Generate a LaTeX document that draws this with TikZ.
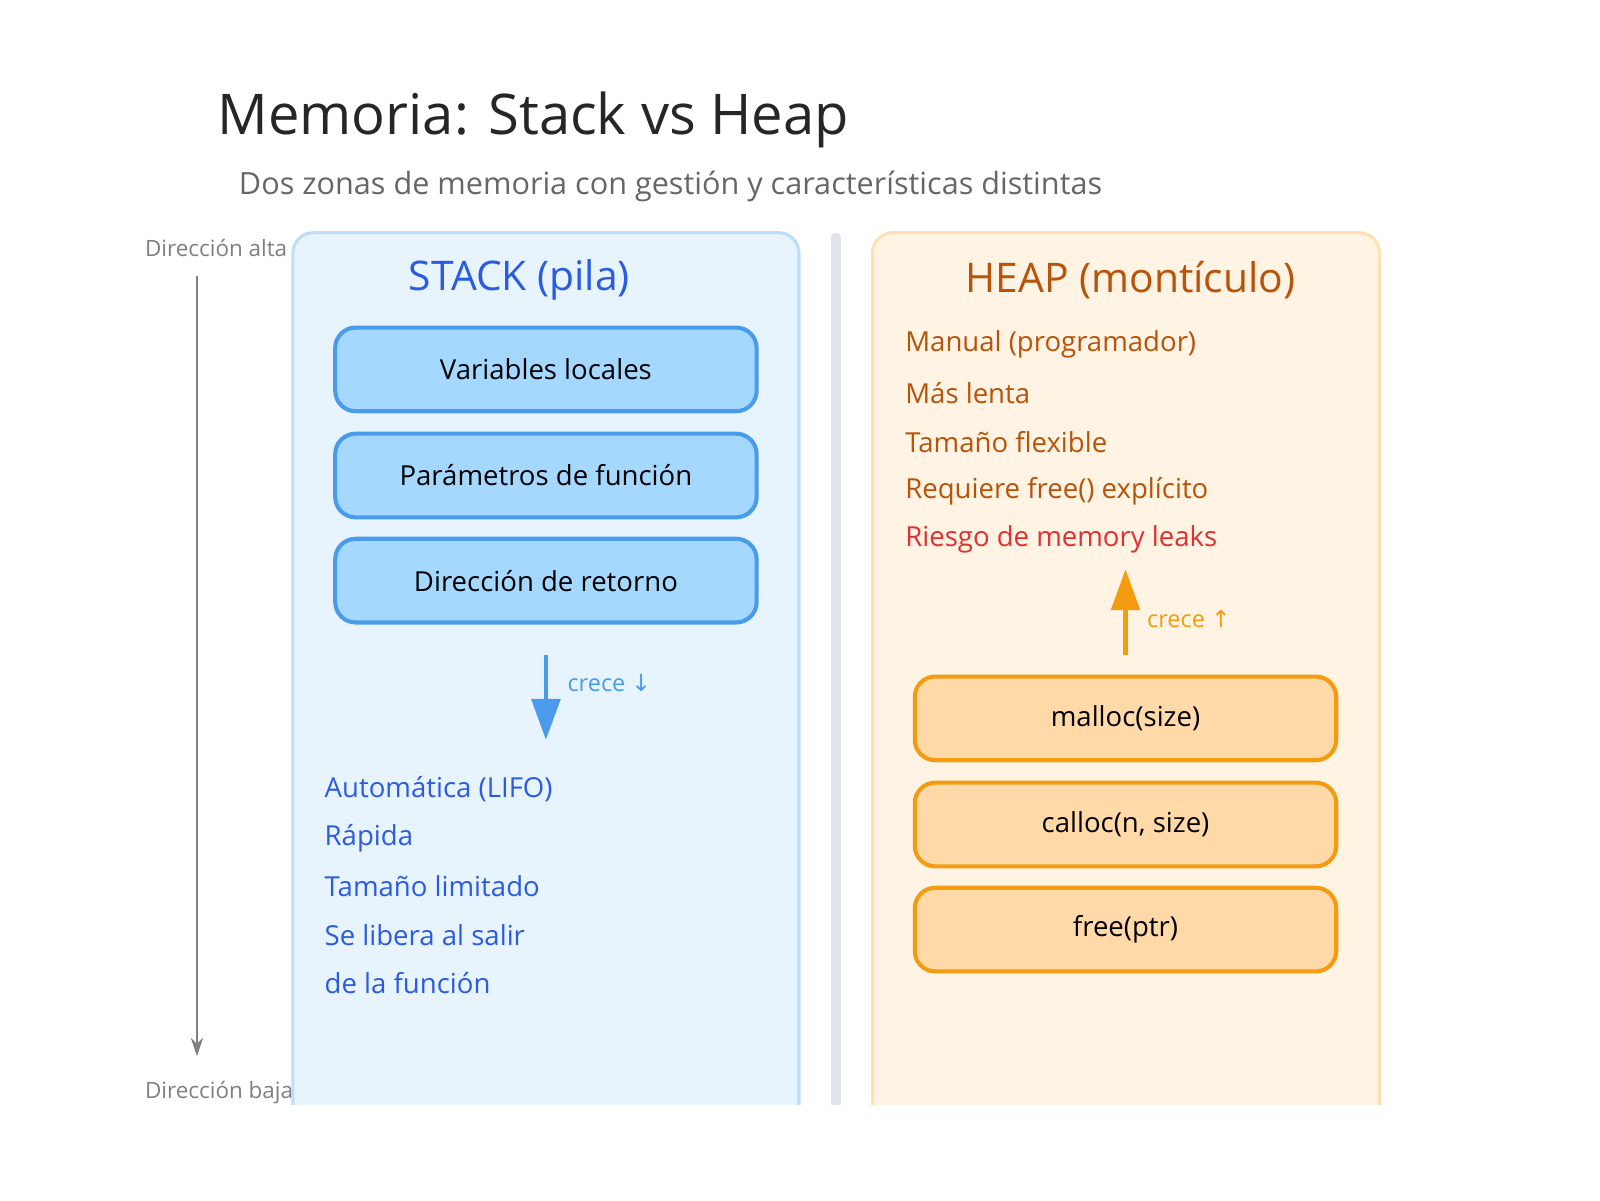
\documentclass[tikz,border=0pt]{standalone}
\usepackage{fontspec}
\setmainfont{Open Sans}
\newfontfamily\arrowfont{DejaVu Sans}
\usetikzlibrary{arrows.meta}
\definecolor{stackbg}{HTML}{E8F4FD}
\definecolor{stackline}{HTML}{BBDEFB}
\definecolor{stackbox}{HTML}{A5D8FF}
\definecolor{stackedge}{HTML}{4A9BEA}
\definecolor{stacktext}{HTML}{2B5BE0}
\definecolor{heapbg}{HTML}{FFF3E3}
\definecolor{heapline}{HTML}{FFE0B2}
\definecolor{heapbox}{HTML}{FFD9A8}
\definecolor{heapedge}{HTML}{F39C12}
\definecolor{heaptext}{HTML}{B8530A}
\definecolor{leaktext}{HTML}{E03030}
\definecolor{divider}{HTML}{E0E3EA}

\begin{document}
\begin{tikzpicture}[x=1pt,y=-1pt,
  panel/.style={rounded corners=20pt,line width=3pt},
  stackitem/.style={draw=stackedge,fill=stackbox,line width=4pt,rounded corners=20pt,
    minimum width=413pt,minimum height=82pt,font=\fontsize{27}{32}\selectfont},
  heapitem/.style={draw=heapedge,fill=heapbox,line width=4pt,rounded corners=20pt,
    minimum width=413pt,minimum height=82pt,font=\fontsize{27}{32}\selectfont},
  listitem/.style={anchor=west,inner sep=0pt,font=\fontsize{27}{32}\selectfont},
  small/.style={anchor=west,inner sep=0pt,text=gray,font=\fontsize{22}{26}\selectfont}]
\useasboundingbox (0,0) rectangle (1568,1176);
\begin{scope}
\clip (0,0) rectangle (1568,1082);
\draw[panel,fill=stackbg,draw=stackline] (287,228) rectangle (783,1110);
\draw[panel,fill=heapbg,draw=heapline] (855,228) rectangle (1352,1110);
\draw[line width=10pt,line cap=round,draw=divider] (819,233) -- (819,1110);
\end{scope}

% titles
\node[anchor=west,inner sep=0pt,text=black!85,font=\fontsize{55}{64}\selectfont] (title) at (213,118) {Memoria: Stack vs Heap};
\node[anchor=west,inner sep=0pt,text=black!60,font=\fontsize{30}{36}\selectfont] (subtitle) at (234,183) {Dos zonas de memoria con gestión y características distintas};

% address direction
\node[small] (high) at (142,243) {Dirección alta};
\node[small] (low) at (142,1071) {Dirección baja};
\coordinate (top) at (193,270);
\coordinate (bottom) at (193,1035);
\draw[gray,line width=2pt,-{Stealth[length=18pt,width=12pt]}] (top) -- (bottom);

% stack
\node[text=stacktext,font=\fontsize{40}{48}\selectfont] (stack) at (509,274) {STACK (pila)};
\node[stackitem] (vars) at (535,362) {Variables locales};
\node[stackitem] (params) at (535,466) {Parámetros de función};
\node[stackitem] (ret) at (535,569) {Dirección de retorno};
\coordinate (sdown1) at (535,642);
\coordinate (sdown2) at (535,725);
\draw[stackedge,line width=4pt,-{Triangle[length=40pt,width=28pt]}] (sdown1) -- (sdown2);
\node[listitem,text=stackedge,font=\fontsize{23}{28}\selectfont] (sgrow) at (556,669) {crece {\arrowfont ↓}};
\foreach \t [count=\i] in {Automática (LIFO),Rápida,Tamaño limitado,Se libera al salir,de la función}
  \node[listitem,text=stacktext] (s\i) at (318,726+47.5*\i) {\t};

% heap
\node[text=heaptext,font=\fontsize{40}{48}\selectfont] (heap) at (1108,274) {HEAP (montículo)};
\foreach \t [count=\i] in {Manual (programador),Más lenta,Tamaño flexible,Requiere free() explícito}
  \node[listitem,text=heaptext] (h\i) at (887,290+47.8*\i) {\t};
\node[listitem,text=leaktext] (h5) at (887,529) {Riesgo de memory leaks};
\coordinate (hup1) at (1103,642);
\coordinate (hup2) at (1103,558);
\draw[heapedge,line width=4pt,-{Triangle[length=40pt,width=28pt]}] (hup1) -- (hup2);
\node[listitem,text=heapedge,font=\fontsize{23}{28}\selectfont] (hgrow) at (1124,607) {crece {\arrowfont ↑}};
\node[heapitem] (malloc) at (1103,704) {malloc(size)};
\node[heapitem] (calloc) at (1103,808) {calloc(n, size)};
\node[heapitem] (free) at (1103,911) {free(ptr)};
\end{tikzpicture}
\end{document}
